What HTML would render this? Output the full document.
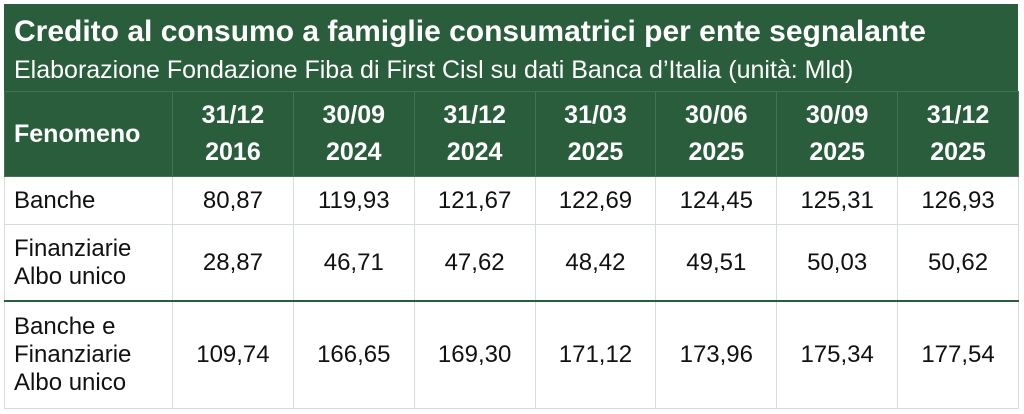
<!DOCTYPE html>
<html><head><meta charset="utf-8"><style>
body{margin:0;background:#fff;width:1024px;height:414px;overflow:hidden;font-family:"Liberation Sans",sans-serif;}
.title{position:absolute;left:4px;top:4px;width:1014px;height:87px;background:#2a5d3c;color:#fff;}
.t1{position:absolute;left:10px;top:11px;font-size:30px;font-weight:bold;white-space:nowrap;}
.t2{position:absolute;left:10px;top:52px;font-size:25px;white-space:nowrap;}
table{position:absolute;left:4px;top:91px;border-collapse:collapse;table-layout:fixed;width:1015px;}
td,th{border:1px solid #d4ddd7;text-align:center;font-size:24px;color:#111;padding:0;}
th{background:#2a5d3c;color:#fff;font-weight:bold;border-color:#3f7553;height:84px;line-height:37px;font-size:25px;}
th.f{text-align:left;padding-left:9px;}
td.f{text-align:left;padding-left:9px;line-height:28px;}
tr.r1 td{height:47px;}
tr.r2 td{height:75px;border-bottom:2px solid #2a5d3c;}
tr.r3 td{height:106px;}
</style></head><body>
<div class="title"><div class="t1">Credito al consumo a famiglie consumatrici per ente segnalante</div>
<div class="t2">Elaborazione Fondazione Fiba di First Cisl su dati Banca d’Italia (unità: Mld)</div></div>
<table>
<colgroup><col style="width:168px"><col><col><col><col><col><col><col></colgroup>
<tr><th class="f">Fenomeno</th><th>31/12<br>2016</th><th>30/09<br>2024</th><th>31/12<br>2024</th><th>31/03<br>2025</th><th>30/06<br>2025</th><th>30/09<br>2025</th><th>31/12<br>2025</th></tr>
<tr class="r1"><td class="f">Banche</td><td>80,87</td><td>119,93</td><td>121,67</td><td>122,69</td><td>124,45</td><td>125,31</td><td>126,93</td></tr>
<tr class="r2"><td class="f">Finanziarie<br>Albo unico</td><td>28,87</td><td>46,71</td><td>47,62</td><td>48,42</td><td>49,51</td><td>50,03</td><td>50,62</td></tr>
<tr class="r3"><td class="f">Banche e<br>Finanziarie<br>Albo unico</td><td>109,74</td><td>166,65</td><td>169,30</td><td>171,12</td><td>173,96</td><td>175,34</td><td>177,54</td></tr>
</table>
</body></html>
